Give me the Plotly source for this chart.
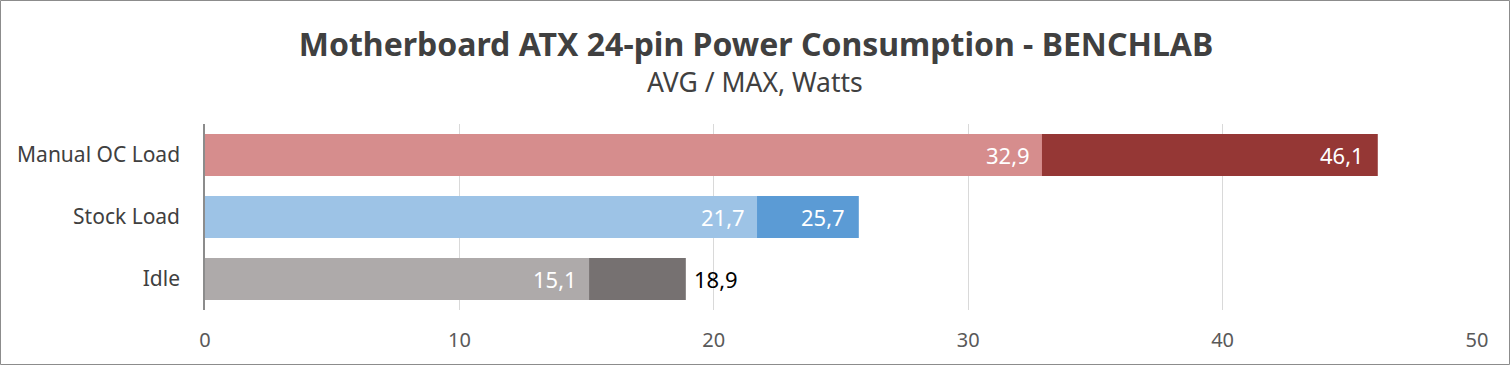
import plotly.graph_objects as go

categories = ["Manual OC Load", "Stock Load", "Idle"]
avg_values = [32.9, 21.7, 15.1]
max_values = [46.1, 25.7, 18.9]
avg_colors = ["#D68D8D", "#9DC3E6", "#AEAAAA"]
max_colors = ["#953735", "#5B9BD5", "#767171"]
max_label_inside = [True, True, False]
x_ticks = [0, 10, 20, 30, 40, 50]

FONT = "Noto Sans"

def fmt(v):
    return f"{v:.1f}".replace(".", ",")

L, R, T, B = 205, 34, 124, 56
W, H = 1511, 366
pw, ph = W - L - R, H - T - B

def py(pix):
    return (H - B - pix) / ph

def px(pix):
    return (pix - L) / pw

fig = go.Figure()
fig.add_trace(go.Bar(y=categories, x=max_values, orientation="h",
                     marker=dict(color=max_colors, line=dict(width=0)),
                     width=0.68, hoverinfo="x+y"))
fig.add_trace(go.Bar(y=categories, x=avg_values, orientation="h",
                     marker=dict(color=avg_colors, line=dict(width=0)),
                     width=0.68, hoverinfo="x+y"))

annotations = []
for c, a, m, ins in zip(categories, avg_values, max_values, max_label_inside):
    annotations.append(dict(x=a, y=c, xref="x", yref="y", text=fmt(a), showarrow=False,
                            xanchor="right", xshift=-10,
                            font=dict(family=FONT, size=22, color="white")))
    annotations.append(dict(x=m, y=c, xref="x", yref="y", text=fmt(m), showarrow=False,
                            xanchor="right" if ins else "left",
                            xshift=-12 if ins else 6,
                            font=dict(family=FONT, size=22, color="white" if ins else "black")))

annotations.append(dict(x=px(755), y=py(82), xref="paper", yref="paper",
                        text="AVG / MAX, Watts", showarrow=False, xanchor="center", yanchor="middle",
                        font=dict(family=FONT, size=26.5, color="#404040")))

shapes = [dict(type="rect", xref="paper", yref="paper",
               x0=px(0.5), x1=px(1509.5),
               y0=py(364.5), y1=py(0.5),
               line=dict(color="#8C8C8C", width=1), fillcolor="rgba(0,0,0,0)", layer="below")]

fig.update_layout(
    width=W, height=H,
    margin=dict(l=L, r=R, t=T, b=B),
    paper_bgcolor="white", plot_bgcolor="white",
    barmode="overlay", showlegend=False,
    title=dict(text="<b>Motherboard ATX 24-pin Power Consumption - BENCHLAB</b>",
               x=756 / W, xref="container", xanchor="center",
               y=1 - 45 / H, yref="container", yanchor="middle",
               font=dict(family=FONT, size=32, color="#404040")),
    xaxis=dict(range=[0, 50], tickvals=x_ticks, ticktext=[str(t) for t in x_ticks],
               showgrid=True, gridcolor="#D9D9D9", gridwidth=1, zeroline=False,
               showline=False, ticks="", ticklabelstandoff=16,
               tickfont=dict(family=FONT, size=20, color="#595959")),
    yaxis=dict(categoryorder="array", categoryarray=categories, autorange="reversed",
               showgrid=False, zeroline=False, showline=True, linecolor="#8C8C8C", linewidth=1.5,
               ticks="", ticklabelstandoff=19,
               tickfont=dict(family=FONT, size=21, color="#404040")),
    annotations=annotations, shapes=shapes,
)

fig.write_html("out.html")
